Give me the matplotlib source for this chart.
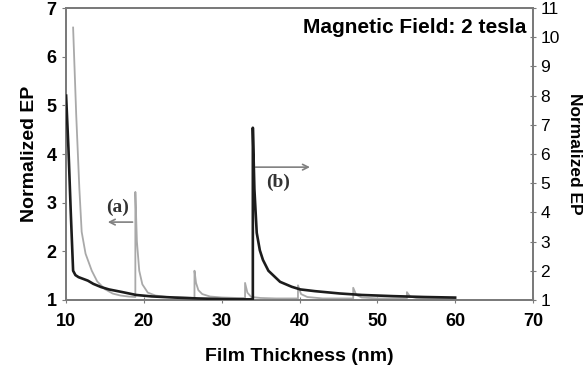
import matplotlib
matplotlib.use("Agg")
import matplotlib.pyplot as plt

# --- curve (a): gray, left axis ---
xa = [10.9, 11.3, 11.7, 12.0, 12.5, 13.3, 14.0, 15.0, 16.0, 17.0, 18.0, 18.9,
      18.9, 19.1, 19.4, 19.8, 20.5, 21.5, 23.0, 25.0, 26.5,
      26.5, 26.7, 27.0, 27.5, 28.5, 30.0, 32.0, 33.0,
      33.0, 33.3, 33.8, 35.0, 37.0, 39.8,
      39.8, 40.2, 41.0, 43.0, 45.0, 46.9,
      46.9, 47.3, 48.0, 50.0, 52.0, 53.8,
      53.8, 54.2, 55.0, 57.0, 60.0]
ya = [6.6, 4.8, 3.3, 2.4, 1.95, 1.6, 1.38, 1.22, 1.13, 1.09, 1.07, 1.06,
      3.22, 2.2, 1.6, 1.32, 1.15, 1.09, 1.06, 1.05, 1.04,
      1.6, 1.35, 1.2, 1.12, 1.07, 1.05, 1.04, 1.04,
      1.35, 1.15, 1.06, 1.04, 1.03, 1.03,
      1.3, 1.12, 1.06, 1.03, 1.03, 1.03,
      1.25, 1.1, 1.05, 1.03, 1.03, 1.03,
      1.16, 1.07, 1.04, 1.03, 1.03]

# --- curve (b): black, right axis ---
xb = [10.0, 10.3, 10.6, 10.9, 11.2, 11.6, 12.2, 12.8, 13.5, 14.5, 15.5, 17.2,
      19.0, 21.0, 24.0, 27.0, 30.0, 33.0, 34.0,
      34.0, 34.2, 34.5, 34.9, 35.3, 36.0, 37.5, 39.0, 40.1, 42.0, 45.2,
      48.0, 52.0, 56.0, 60.0]
yb = [8.0, 6.2, 4.0, 2.0, 1.85, 1.78, 1.72, 1.66, 1.55, 1.44, 1.36, 1.27,
      1.17, 1.12, 1.08, 1.05, 1.03, 1.02, 1.02,
      6.9, 4.8, 3.3, 2.7, 2.37, 2.0, 1.62, 1.45, 1.36, 1.3, 1.22,
      1.17, 1.13, 1.1, 1.08]

xticks = [10, 20, 30, 40, 50, 60, 70]
yticks_left = [1, 2, 3, 4, 5, 6, 7]
yticks_right = [1, 2, 3, 4, 5, 6, 7, 8, 9, 10, 11]

sans = "Liberation Sans"
serif = "Liberation Serif"
spine_col = "#7a7a7a"

fig = plt.figure(figsize=(5.85, 3.68), dpi=100)
ax = fig.add_axes([0.113, 0.185, 0.798, 0.793])
ax2 = ax.twinx()

ax.plot(xa, ya, color="#a9a9a9", lw=1.3, zorder=2)
ax2.plot(xb, yb, color="#1c1c1c", lw=1.9, zorder=3)

ax.set_xlim(10, 70)
ax.set_ylim(1, 7)
ax2.set_ylim(1, 11)
ax.set_xticks(xticks)
ax.set_yticks(yticks_left)
ax2.set_yticks(yticks_right)

for a in (ax, ax2):
    for s in a.spines.values():
        s.set_color(spine_col)
        s.set_linewidth(1.3)

ax.tick_params(axis="x", direction="inout", length=5, color=spine_col, pad=7)
ax.tick_params(axis="y", direction="out", length=3, color=spine_col, pad=4)
ax2.tick_params(axis="y", direction="inout", length=5, color=spine_col, pad=3)

for lab in ax.get_xticklabels() + ax.get_yticklabels():
    lab.set_fontfamily(sans)
    lab.set_fontweight("bold")
    lab.set_fontsize(13)
for lab in ax2.get_yticklabels():
    lab.set_fontfamily(sans)
    lab.set_fontsize(12.5)

ax.set_xlabel("Film Thickness (nm)", family=sans, weight="bold", fontsize=14, labelpad=13)
ax.set_ylabel("Normalized EP", family=sans, weight="bold", fontsize=14, labelpad=6)
ax2.set_ylabel("Normalized EP", family=sans, weight="bold", fontsize=12.5,
               rotation=-90, labelpad=16)

ax.text(0.985, 0.965, "Magnetic Field: 2 tesla", transform=ax.transAxes,
        ha="right", va="top", family=sans, weight="bold", fontsize=15)

# annotation arrows
ax.annotate("", xy=(15.0, 2.6), xytext=(18.9, 2.6),
            arrowprops=dict(arrowstyle="->", color="#808080", lw=1.2))
ax.text(16.6, 2.72, "(a)", family=serif, weight="bold", fontsize=14,
        ha="center", va="bottom", color="#333333")
ax.annotate("", xy=(41.7, 3.73), xytext=(34.0, 3.73),
            arrowprops=dict(arrowstyle="->", color="#808080", lw=1.2))
ax.text(37.2, 3.6, "(b)", family=serif, weight="bold", fontsize=14,
        ha="center", va="top", color="#333333")

fig.savefig("out.png", dpi=100)
